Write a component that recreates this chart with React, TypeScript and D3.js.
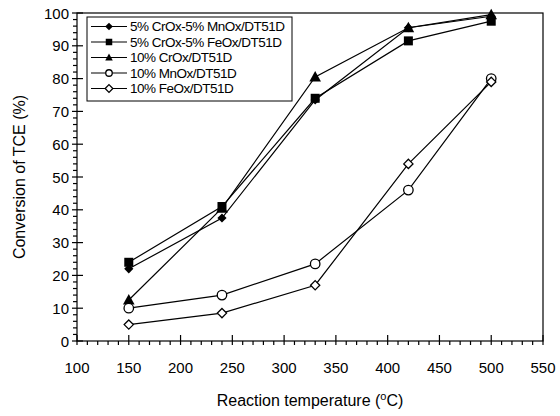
import * as d3 from "d3";

// reaction temperature (°C)
const temps = [150, 240, 330, 420, 500];

const seriesNames = [
  "5% CrOx-5% MnOx/DT51D",
  "5% CrOx-5% FeOx/DT51D",
  "10% CrOx/DT51D",
  "10% MnOx/DT51D",
  "10% FeOx/DT51D",
];
const markerKinds = ["diamondFill", "square", "triangle", "circle", "diamondOpen"];

// TCE conversion (%)
const crMn = [22, 37.5, 73.5, 95.5, 99];
const crFe = [24, 41, 74, 91.5, 97.5];
const cr10 = [12.5, 40.5, 80.5, 95.5, 99.5];
const mn10 = [10, 14, 23.5, 46, 80];
const fe10 = [5, 8.5, 17, 54, 79];
const seriesValues = [crMn, crFe, cr10, mn10, fe10];

const xTicks = [100, 150, 200, 250, 300, 350, 400, 450, 500, 550];
const yTicks = [0, 10, 20, 30, 40, 50, 60, 70, 80, 90, 100];

const W = 560;
const H = 416;
const left = 77, right = 543, top = 13, bottom = 341;
const font = "'Liberation Sans', Arial, sans-serif";

const Marker = ({ kind, x, y, s }: { kind: string; x: number; y: number; s: number }) => {
  if (kind === "square")
    return <rect x={x - s / 2} y={y - s / 2} width={s} height={s} fill="#000" />;
  if (kind === "triangle") {
    const h = s * 1.0;
    return (
      <path d={`M${x},${y - h * 0.6}L${x + s * 0.58},${y + h * 0.45}L${x - s * 0.58},${y + h * 0.45}Z`} fill="#000" />
    );
  }
  if (kind === "circle")
    return <circle cx={x} cy={y} r={s / 2} fill="#fff" stroke="#000" strokeWidth={1.3} />;
  const r = s / 2 + 0.6;
  const d = `M${x},${y - r}L${x + r},${y}L${x},${y + r}L${x - r},${y}Z`;
  if (kind === "diamondFill") return <path d={d} fill="#000" />;
  return <path d={d} fill="#fff" stroke="#000" strokeWidth={1.3} />;
};

export default function App() {
  const x = d3.scaleLinear().domain([100, 550]).range([left, right]);
  const y = d3.scaleLinear().domain([0, 100]).range([bottom, top]);
  const line = d3
    .line<number>()
    .x((_, i) => x(temps[i]))
    .y((d) => y(d));

  const xMinor = d3.range(100, 551, 10).filter((v) => v % 50 !== 0);
  const yMinor = d3.range(0, 101, 2).filter((v) => v % 10 !== 0);
  const markSize = [8, 9, 10, 9.5, 8];

  const legX = 87, legY = 17, legW = 205, legH = 84, rowH = 15.5;

  return (
    <svg width={W} height={H} style={{ position: "absolute", left: 0, top: 0, background: "#fff" }}>
      <g stroke="#000" strokeWidth={1.2} fill="none">
        <rect x={left} y={top} width={right - left} height={bottom - top} />
        {xTicks.map((t) => (
          <line key={"xt" + t} x1={x(t)} x2={x(t)} y1={bottom - 6} y2={bottom + 4} />
        ))}
        {xMinor.map((t) => (
          <line key={"xm" + t} x1={x(t)} x2={x(t)} y1={bottom} y2={bottom + 4} />
        ))}
        {yTicks.map((t) => (
          <line key={"yt" + t} x1={left - 5} x2={left + 6} y1={y(t)} y2={y(t)} />
        ))}
        {yMinor.map((t) => (
          <line key={"ym" + t} x1={left - 4} x2={left} y1={y(t)} y2={y(t)} />
        ))}
      </g>
      <g fontFamily={font} fontSize={15} fill="#000">
        {xTicks.map((t) => (
          <text key={"xl" + t} x={x(t)} y={373} textAnchor="middle">
            {t}
          </text>
        ))}
        {yTicks.map((t) => (
          <text key={"yl" + t} x={left - 8} y={y(t) + 5.5} textAnchor="end">
            {t}
          </text>
        ))}
      </g>
      <text x={(left + right) / 2} y={406} textAnchor="middle" fontFamily={font} fontSize={16}>
        Reaction temperature (<tspan fontSize={11} dy={-6}>o</tspan>
        <tspan dy={6}>C)</tspan>
      </text>
      <text
        transform={`translate(25,${(top + bottom) / 2}) rotate(-90)`}
        textAnchor="middle"
        fontFamily={font}
        fontSize={16}
      >
        Conversion of TCE (%)
      </text>

      {seriesValues.map((vals, si) => (
        <g key={"s" + si}>
          <path d={line(vals) ?? ""} fill="none" stroke="#000" strokeWidth={1.2} />
          {vals.map((v, i) => (
            <Marker key={i} kind={markerKinds[si]} x={x(temps[i])} y={y(v)} s={markSize[si]} />
          ))}
        </g>
      ))}

      <rect x={legX} y={legY} width={legW} height={legH} fill="#fff" stroke="#000" strokeWidth={1} />
      {seriesNames.map((name, i) => {
        const ry = legY + 9.5 + i * rowH;
        return (
          <g key={"l" + i}>
            <line x1={legX + 4} x2={legX + 40} y1={ry} y2={ry} stroke="#000" strokeWidth={1.2} />
            <Marker kind={markerKinds[i]} x={legX + 22} y={ry} s={6.5} />
            <text x={legX + 43} y={ry + 4.8} fontFamily={font} fontSize={13.5} letterSpacing={-0.5}>
              {name}
            </text>
          </g>
        );
      })}
    </svg>
  );
}
